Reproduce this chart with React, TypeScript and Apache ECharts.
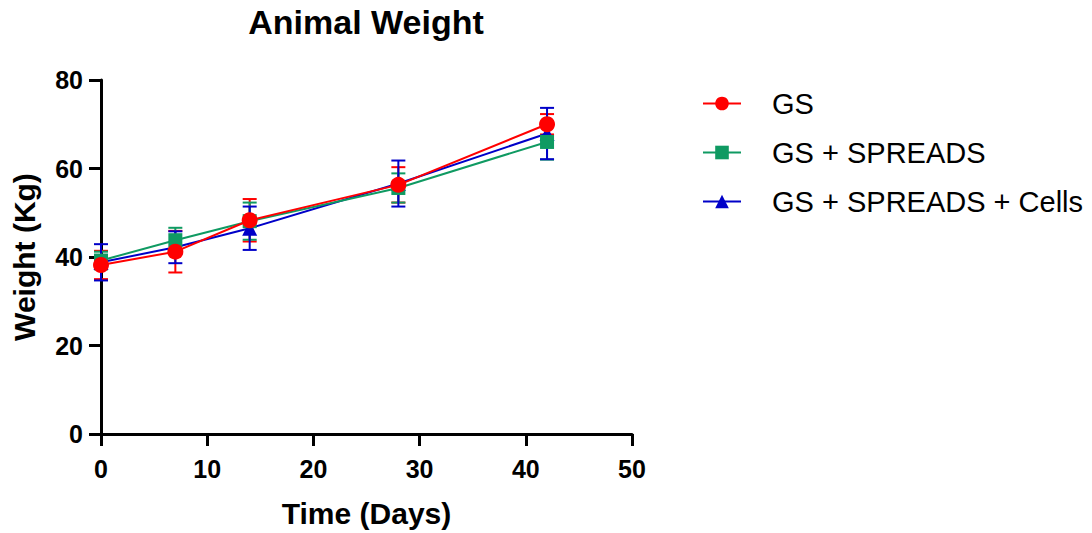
import React, { useEffect, useRef } from "react";
import * as echarts from "echarts";

const days = [0, 7, 14, 28, 42];
const seriesNames = ["GS", "GS + SPREADS", "GS + SPREADS + Cells"];
const gsMean = [38.2, 41.2, 48.3, 56.3, 70.0];
const gsErr = [3.2, 4.7, 4.8, 4.0, 2.3];
const spMean = [39.2, 43.8, 48.1, 55.6, 66.0];
const spErr = [2.0, 2.8, 4.2, 3.3, 4.0];
const cellsMean = [38.8, 42.2, 46.5, 56.6, 67.9];
const cellsErr = [4.1, 3.6, 4.9, 5.2, 5.8];
const xTicks = [0, 10, 20, 30, 40, 50];
const yTicks = [0, 20, 40, 60, 80];

const colors = ["#FF0000", "#0F9A62", "#0000C8"];
const symbols = ["circle", "rect", "triangle"];
const symbolSizes = [16, 14, 15];

const means = [gsMean, spMean, cellsMean];
const errs = [gsErr, spErr, cellsErr];

function errorSeries(idx: number) {
  const data = days.map((d, i) => [d, means[idx][i] - errs[idx][i], means[idx][i] + errs[idx][i]]);
  const color = colors[idx];
  return {
    type: "custom",
    name: seriesNames[idx] + " err",
    data,
    z: 2 + idx,
    encode: { x: 0, y: [1, 2] },
    renderItem: (params: any, api: any) => {
      const x = api.value(0);
      const lo = api.coord([x, api.value(1)]);
      const hi = api.coord([x, api.value(2)]);
      const hw = 7;
      const style = { stroke: color, lineWidth: 2 };
      return {
        type: "group",
        children: [
          { type: "line", shape: { x1: lo[0], y1: lo[1], x2: hi[0], y2: hi[1] }, style },
          { type: "line", shape: { x1: lo[0] - hw, y1: lo[1], x2: lo[0] + hw, y2: lo[1] }, style },
          { type: "line", shape: { x1: hi[0] - hw, y1: hi[1], x2: hi[0] + hw, y2: hi[1] }, style },
        ],
      };
    },
  };
}

function lineSeries(idx: number) {
  return {
    type: "line",
    name: seriesNames[idx],
    data: days.map((d, i) => [d, means[idx][i]]),
    symbol: symbols[idx],
    symbolSize: symbolSizes[idx],
    showAllSymbol: true,
    z: 10 - idx,
    lineStyle: { color: colors[idx], width: 2 },
    itemStyle: { color: colors[idx] },
    emphasis: { disabled: true },
  };
}

export default function App() {
  const ref = useRef<HTMLDivElement>(null);
  useEffect(() => {
    if (!ref.current) return;
    const chart = echarts.init(ref.current, null, { renderer: "svg" });
    const font = "Arial, 'Liberation Sans', sans-serif";
    chart.setOption({
      animation: false,
      backgroundColor: "#ffffff",
      textStyle: { fontFamily: font },
      graphic: [
        {
          type: "text",
          x: 366,
          y: 22,
          style: {
            text: "Animal Weight",
            textAlign: "center",
            textVerticalAlign: "middle",
            font: "bold 34px Arial, 'Liberation Sans', sans-serif",
            fill: "#000",
          },
        },
      ],
      legend: {
        orient: "vertical",
        left: 697,
        top: 84,
        itemWidth: 38,
        itemHeight: 17,
        itemGap: 20,
        data: seriesNames,
        textStyle: { fontSize: 29, color: "#000", fontFamily: font, padding: [0, 0, 0, 26] },
      },
      grid: { left: 101, right: 460, top: 80, bottom: 99 },
      xAxis: {
        type: "value",
        min: 0,
        max: 50,
        interval: 10,
        name: "Time (Days)",
        nameLocation: "middle",
        nameGap: 64,
        nameTextStyle: { fontSize: 30, fontWeight: "bold", color: "#000", fontFamily: font },
        axisLine: { show: true, onZero: false, lineStyle: { color: "#000", width: 3 } },
        axisTick: { show: true, length: 12, lineStyle: { color: "#000", width: 3 } },
        axisLabel: {
          fontSize: 25,
          fontWeight: "bold",
          color: "#000",
          margin: 22,
          fontFamily: font,
          formatter: (v: number) => (xTicks.includes(v) ? String(v) : ""),
        },
        splitLine: { show: false },
      },
      yAxis: {
        type: "value",
        min: 0,
        max: 80,
        interval: 20,
        name: "Weight (Kg)",
        nameLocation: "middle",
        nameGap: 62,
        nameTextStyle: { fontSize: 30, fontWeight: "bold", color: "#000", fontFamily: font },
        axisLine: { show: true, onZero: false, lineStyle: { color: "#000", width: 3 } },
        axisTick: { show: true, length: 12, lineStyle: { color: "#000", width: 3 } },
        axisLabel: {
          fontSize: 25,
          fontWeight: "bold",
          color: "#000",
          margin: 18,
          fontFamily: font,
          formatter: (v: number) => (yTicks.includes(v) ? String(v) : ""),
        },
        splitLine: { show: false },
      },
      series: [
        errorSeries(2),
        errorSeries(1),
        errorSeries(0),
        lineSeries(2),
        lineSeries(1),
        lineSeries(0),
      ],
    });
    return () => chart.dispose();
  }, []);
  return (
    <div
      ref={ref}
      style={{ width: 1092, height: 533, position: "absolute", left: 0, top: 0 }}
    />
  );
}
